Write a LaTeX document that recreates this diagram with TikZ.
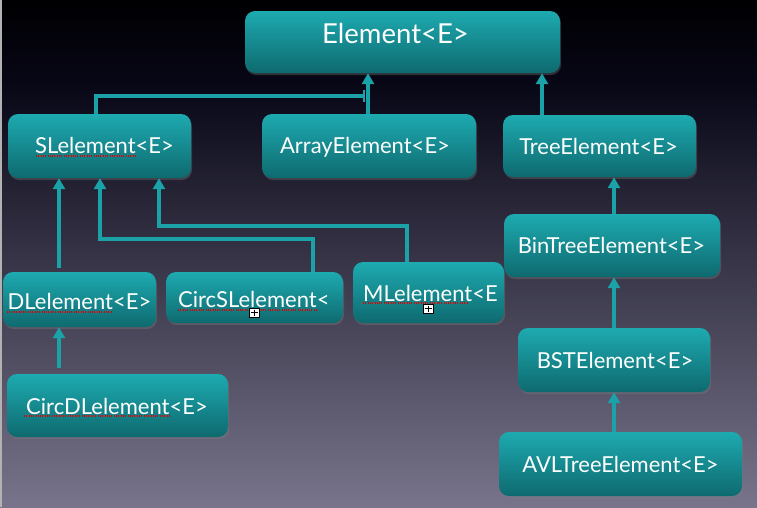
\documentclass[tikz,border=0pt]{standalone}
\usepackage{fontspec}
\setmainfont{Lato}
\usetikzlibrary{arrows.meta,shadows}
\definecolor{boxtop}{HTML}{1DAAB0}
\definecolor{boxbot}{HTML}{0E6A6F}
\definecolor{conncol}{HTML}{1AA2A8}
\definecolor{bgA}{HTML}{000002}
\definecolor{bgB}{HTML}{070615}
\definecolor{bgC}{HTML}{78748B}
\tikzset{
 box/.style={rounded corners=10pt, top color=boxtop, bottom color=boxbot, draw=none, inner sep=0pt,
   drop shadow={opacity=0.35, shadow xshift=1pt, shadow yshift=-2pt}},
 lbl/.style={text=white, font=\fontsize{22}{24}\selectfont, inner sep=0pt, anchor=base},
 conn/.style={draw=conncol, line width=3.5pt, -{Triangle[width=12pt,length=11pt]}},
 barconn/.style={draw=conncol, line width=3.5pt, -{Bar[width=12pt,line width=2pt]}},
 squig/.style={draw=red!90!black, line width=1.1pt, dash pattern=on 1pt off 1.3pt},
 plusbox/.style={fill=white, draw=black, line width=0.6pt},
}
\begin{document}
\begin{tikzpicture}[x=1pt,y=-1pt]
\useasboundingbox (0,0) rectangle (757,507);
% background
\fill[top color=bgA, bottom color=bgB] (0,0) rectangle (757,80);
\fill[top color=bgB, bottom color=bgC] (0,80) rectangle (757,507);
\fill[gray!60] (0,0) rectangle (1.5,507);

% boxes
\node[box, minimum width=315pt, minimum height=62pt] (elem) at (402.5,42) {};
\node[box, minimum width=183pt, minimum height=64pt] (sl) at (99.5,146) {};
\node[box, minimum width=214pt, minimum height=64pt] (arr) at (369,146) {};
\node[box, minimum width=193pt, minimum height=62pt] (tree) at (599.5,146) {};
\node[box, minimum width=216pt, minimum height=63pt] (bin) at (612,245.5) {};
\node[box, minimum width=192pt, minimum height=64pt] (bst) at (614,360) {};
\node[box, minimum width=243pt, minimum height=64pt] (avl) at (620.5,464) {};
\node[box, minimum width=153pt, minimum height=55pt] (dl) at (79.5,299.5) {};
\node[box, minimum width=177pt, minimum height=51pt] (csl) at (254.5,297.5) {};
\node[box, minimum width=151pt, minimum height=61pt] (ml) at (428.5,292.5) {};
\node[box, minimum width=221pt, minimum height=63pt] (cdl) at (117.5,405.5) {};

% labels
\node[lbl, font=\fontsize{27.5}{30}\selectfont] (elemT) at (395.5,43) {Element<E>};
\node[lbl] (slT) at (104.5,153) {SLelement<E>};
\node[lbl] (arrT) at (365,153) {ArrayElement<E>};
\node[lbl] (treeT) at (598.5,154) {TreeElement<E>};
\node[lbl] (binT) at (611.5,253) {BinTreeElement<E>};
\node[lbl] (bstT) at (615,368) {BSTElement<E>};
\node[lbl] (avlT) at (620.5,472) {AVLTreeElement<E>};
\node[lbl] (dlT) at (79.5,309) {DLelement<E>};
\node[lbl, anchor=base west] (cslT) at (178,307) {CircSLelement<};
\node[lbl, anchor=base west] (mlT) at (363,301) {MLelement<E};
\node[lbl] (cdlT) at (117,414) {CircDLelement<E>};

% spell-check underlines
\draw[squig] (36,156) -- (135,156);
\draw[squig] (7,312) -- (112,312);
\draw[squig] (178,310) -- (318,310);
\draw[squig] (363,303) -- (467,303);
\draw[squig] (24,416) -- (171,416);

% overflow markers
\draw[plusbox] (249,308) rectangle (259,317);
\draw[black, line width=0.7pt] (254,309.5) -- (254,315.5) (250.5,312.5) -- (257.5,312.5);
\draw[plusbox] (423,304) rectangle (433,313);
\draw[black, line width=0.7pt] (428,305.5) -- (428,311.5) (424.5,308.5) -- (431.5,308.5);

% connectors
\coordinate (slj) at (96,96);
\coordinate (barend) at (365,96);
\coordinate (c1) at (100,239);
\coordinate (c2) at (159,226);
\draw[barconn] (sl.north -| slj) -- (slj) -- (barend);
\draw[conn] ([xshift=-1pt]arr.north) -- ([xshift=-1pt]arr.north |- elem.south);
\draw[conn] ([xshift=-57.5pt]tree.north) -- ([xshift=-57.5pt]tree.north |- elem.south);
\draw[conn] ([xshift=2pt]bin.north) -- ([xshift=2pt]bin.north |- tree.south);
\draw[conn] (bst.north) -- (bst.north |- bin.south);
\draw[conn] (avl.north -| bst.south) -- (bst.south);
\draw[conn] ([xshift=-20.5pt,yshift=4pt]dl.north) -- ([xshift=-20.5pt]dl.north |- sl.south);
\draw[conn] ([xshift=58.5pt]csl.north) |- (c1) -- (c1 |- sl.south);
\draw[conn] ([xshift=-21.5pt]ml.north) |- (c2) -- (c2 |- sl.south);
\draw[conn] ([xshift=-58.5pt,yshift=6pt]cdl.north) -- ([xshift=-58.5pt]cdl.north |- dl.south);
\end{tikzpicture}
\end{document}
